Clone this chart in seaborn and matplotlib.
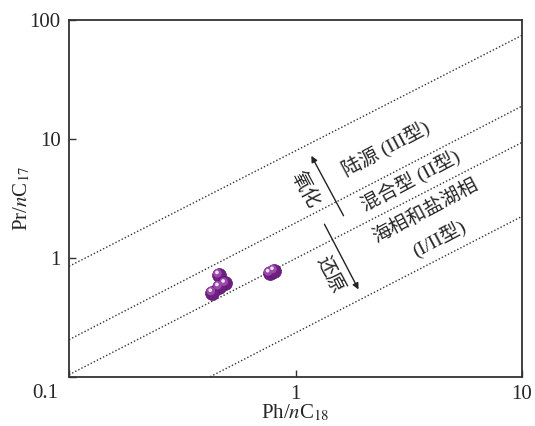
import numpy as np
import pandas as pd
import matplotlib
matplotlib.use('Agg')
import seaborn as sns
from matplotlib import pyplot as plt
from matplotlib.transforms import offset_copy

# sample points (Ph/nC18, Pr/nC17)
ph_nc18 = [0.46, 0.49, 0.46, 0.43, 0.77, 0.805]
pr_nc17 = [0.72, 0.61, 0.57, 0.51, 0.745, 0.78]

# boundary lines, each given by two end points
line_x = [[0.1, 10], [0.1, 10], [0.1, 10], [0.42, 10]]
line_y = [[0.85, 75], [0.205, 19.0], [0.104, 9.4], [0.1, 2.24]]

zone_labels = ['陆源 (III型)', '混合型 (II型)', '海相和盐湖相', '(I/II型)']
x_ticks = [0.1, 1, 10]
x_ticklabels = ['', '1', '10']
y_ticks = [0.1, 1, 10, 100]
y_ticklabels = ['', '1', '10', '100']

sns.set_style("ticks")
plt.rcParams['font.family'] = ['Liberation Serif', 'Noto Sans CJK SC']
plt.rcParams['mathtext.fontset'] = 'stix'

fig = plt.figure(figsize=(5.35, 4.26), dpi=100)
ax = fig.add_axes([0.129, 0.1157, 0.8467, 0.8362])

for xs, ys in zip(line_x, line_y):
    sns.lineplot(x=xs, y=ys, ax=ax, color='#333333', linestyle=(0, (1, 1.5)),
                 linewidth=1.0, estimator=None, sort=False)

pts = pd.DataFrame({'x': ph_nc18, 'y': pr_nc17})
sns.scatterplot(data=pts, x='x', y='y', ax=ax, s=100, color='#6f1f80',
                edgecolor='#5a146a', linewidth=0.5, zorder=5)
sns.scatterplot(data=pts, x='x', y='y', ax=ax, s=38, color='#9a4aaa',
                edgecolor='none', zorder=6)
ax.collections[-1].set_offset_transform(offset_copy(ax.transData, fig, x=-1.2, y=1.2, units='points'))
sns.scatterplot(data=pts, x='x', y='y', ax=ax, s=7, color='#f0e0f4',
                edgecolor='none', zorder=7)
ax.collections[-1].set_offset_transform(offset_copy(ax.transData, fig, x=-1.6, y=1.8, units='points'))

ax.set_xscale('log')
ax.set_yscale('log')
ax.set_xlim(0.1, 10)
ax.set_ylim(0.1, 100)
ax.set_xticks(x_ticks)
ax.set_xticklabels(x_ticklabels)
ax.set_yticks(y_ticks)
ax.set_yticklabels(y_ticklabels)
ax.minorticks_off()
ax.tick_params(direction='in', length=5, width=1, color='#333333', labelsize=15, pad=6)
for sp in ax.spines.values():
    sp.set_linewidth(1.3)
    sp.set_color('#333333')
ax.text(-0.053, -0.046, '0.1', transform=ax.transAxes, ha='center', va='center', fontsize=15)

ax.set_xlabel(r'Ph/$\mathit{n}$C$_{18}$', fontsize=15, labelpad=-1)
ax.set_ylabel(r'Pr/$\mathit{n}$C$_{17}$', fontsize=15, labelpad=-2)

# zone labels along the lines
zone_pos = [(0.699, 0.641), (0.753, 0.550), (0.786, 0.466), (0.817, 0.389)]
for lab, (tx, ty) in zip(zone_labels, zone_pos):
    ax.text(tx, ty, lab, transform=ax.transAxes, rotation=28, ha='center', va='center',
            fontsize=14, rotation_mode='anchor')

ax.annotate('', xy=(0.532, 0.627), xytext=(0.609, 0.445), xycoords='axes fraction',
            arrowprops=dict(arrowstyle='-|>', color='#222222', lw=1, mutation_scale=9))
ax.annotate('', xy=(0.642, 0.238), xytext=(0.561, 0.435), xycoords='axes fraction',
            arrowprops=dict(arrowstyle='-|>', color='#222222', lw=1, mutation_scale=9))
ax.text(0.521, 0.524, '氧化', transform=ax.transAxes, rotation=-62, ha='center', va='center',
        fontsize=14, rotation_mode='anchor')
ax.text(0.576, 0.286, '还原', transform=ax.transAxes, rotation=-62, ha='center', va='center',
        fontsize=14, rotation_mode='anchor')

plt.savefig('out.png', dpi=100)
